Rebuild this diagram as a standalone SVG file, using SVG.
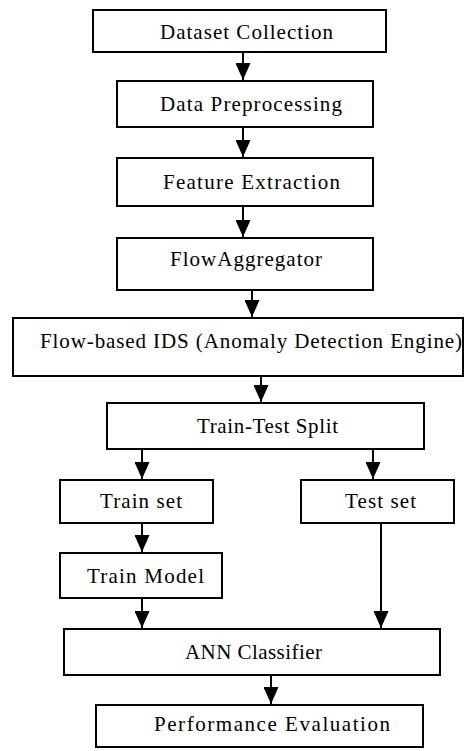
<svg xmlns="http://www.w3.org/2000/svg" width="464" height="751" viewBox="0 0 464 751">
  <style>
    .box { fill: #fff; stroke: #000; stroke-width: 2; }
    .label { font-family: 'Liberation Serif', 'Times New Roman', Times, serif; font-size: 21px; fill: #000; }
    .conn line { stroke: #000; stroke-width: 2; marker-end: url(#arrow); }
  </style>
  <defs>
    <marker id="arrow" markerWidth="17" markerHeight="15" refX="17" refY="7.5" orient="auto" markerUnits="userSpaceOnUse" viewBox="0 0 17 15">
      <path d="M0,0 L17,7.5 L0,15 Z" fill="#000"/>
    </marker>
  </defs>
  <rect x="0" y="0" width="464" height="751" fill="#fff"/>

  <!-- flow arrows between the stages -->
  <g id="connectors" class="conn">
    <line x1="243" y1="52" x2="243" y2="80"/>
    <line x1="243" y1="127" x2="243" y2="157"/>
    <line x1="243" y1="206" x2="243" y2="237"/>
    <line x1="252" y1="290" x2="252" y2="317"/>
    <line x1="261" y1="376" x2="261" y2="402"/>
    <line x1="142" y1="449" x2="142" y2="479"/>
    <line x1="373" y1="449" x2="373" y2="479"/>
    <line x1="142" y1="523" x2="142" y2="552"/>
    <line x1="142" y1="598" x2="142" y2="628"/>
    <line x1="381" y1="523" x2="381" y2="628"/>
    <line x1="271" y1="675" x2="271" y2="704"/>
  </g>

  <g id="dataset-collection">
    <rect class="box" x="93" y="10" width="293" height="42"/>
    <text class="label" x="160" y="38.5" textLength="173" lengthAdjust="spacing">Dataset Collection</text>
  </g>
  <g id="data-preprocessing">
    <rect class="box" x="117" y="81" width="256" height="46"/>
    <text class="label" x="160" y="111" textLength="182" lengthAdjust="spacing">Data Preprocessing</text>
  </g>
  <g id="feature-extraction">
    <rect class="box" x="117" y="158" width="256" height="48"/>
    <text class="label" x="163" y="189" textLength="177" lengthAdjust="spacing">Feature Extraction</text>
  </g>
  <g id="flow-aggregator">
    <rect class="box" x="117" y="238" width="256" height="52"/>
    <text class="label" x="170" y="266" textLength="152" lengthAdjust="spacing">FlowAggregator</text>
  </g>
  <g id="flow-ids">
    <rect class="box" x="13" y="318" width="450" height="58"/>
    <text class="label" x="40" y="348" textLength="422" lengthAdjust="spacing">Flow-based IDS (Anomaly Detection Engine)</text>
  </g>
  <g id="train-test-split">
    <rect class="box" x="107" y="403" width="317" height="46"/>
    <text class="label" x="197" y="433" textLength="141" lengthAdjust="spacing">Train-Test Split</text>
  </g>
  <g id="train-set">
    <rect class="box" x="60" y="480" width="153" height="43"/>
    <text class="label" x="100" y="508" textLength="82" lengthAdjust="spacing">Train set</text>
  </g>
  <g id="test-set">
    <rect class="box" x="301" y="480" width="153" height="43"/>
    <text class="label" x="345" y="508" textLength="71" lengthAdjust="spacing">Test set</text>
  </g>
  <g id="train-model">
    <rect class="box" x="60" y="553" width="162" height="45"/>
    <text class="label" x="87" y="583" textLength="117" lengthAdjust="spacing">Train Model</text>
  </g>
  <g id="ann-classifier">
    <rect class="box" x="64" y="629" width="376" height="46"/>
    <text class="label" x="185" y="659" textLength="137" lengthAdjust="spacing">ANN Classifier</text>
  </g>
  <g id="performance-evaluation">
    <rect class="box" x="96" y="705" width="327" height="42"/>
    <text class="label" x="154" y="731" textLength="236" lengthAdjust="spacing">Performance Evaluation</text>
  </g>
</svg>
